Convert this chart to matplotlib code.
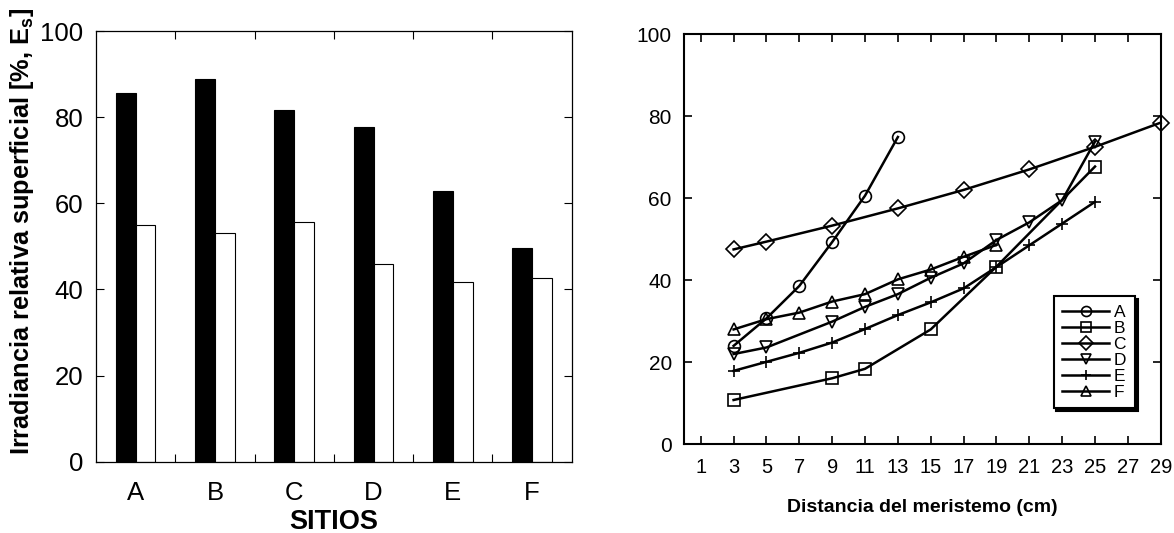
"""
Irradiancia relativa por sitio y perfiles a lo largo del meristemo.
"""

import matplotlib
matplotlib.use("Agg")
import matplotlib.pyplot as plt

plt.rcParams["font.family"] = ["Liberation Sans", "DejaVu Sans"]
plt.rcParams["mathtext.fontset"] = "custom"
plt.rcParams["mathtext.rm"] = "Liberation Sans"
plt.rcParams["mathtext.bf"] = "Liberation Sans:bold"

# barras: irradiancia por sitio
sitios = ["A", "B", "C", "D", "E", "F"]
irr_negro = [85.7, 88.9, 81.7, 77.7, 62.9, 49.6]
irr_blanco = [54.9, 53.0, 55.7, 45.8, 41.8, 42.6]

# perfiles: irradiancia vs distancia del meristemo
dist_a = [3, 5, 7, 9, 11, 13]
irr_a = [24.0, 30.7, 38.6, 49.3, 60.6, 74.9]
dist_b = [3, 9, 11, 15, 19, 25]
irr_b = [10.8, 16.1, 18.4, 28.0, 43.3, 67.7]
dist_c = [3, 5, 9, 13, 17, 21, 25, 29]
irr_c = [47.5, 49.4, 53.3, 57.5, 62.0, 67.0, 72.5, 78.4]
dist_d = [3, 5, 9, 11, 13, 15, 17, 19, 21, 23, 25]
irr_d = [22.0, 23.6, 29.9, 33.5, 36.6, 40.6, 44.1, 49.8, 54.1, 59.5, 73.8]
dist_e = [3, 5, 7, 9, 11, 13, 15, 17, 19, 21, 23, 25]
irr_e = [17.9, 20.1, 22.3, 24.8, 28.1, 31.5, 34.6, 38.0, 43.2, 48.5, 53.8, 59.1]
dist_f = [3, 5, 7, 9, 11, 13, 15, 17, 19]
irr_f = [28.0, 30.5, 32.1, 34.8, 36.6, 40.2, 42.6, 45.7, 48.6]

series = [
    ("A", dist_a, irr_a, "o"),
    ("B", dist_b, irr_b, "s"),
    ("C", dist_c, irr_c, "D"),
    ("D", dist_d, irr_d, "v"),
    ("E", dist_e, irr_e, "+"),
    ("F", dist_f, irr_f, "^"),
]

fig = plt.figure(figsize=(11.74, 5.33), dpi=100)

# --- panel izquierdo: barras ---
ax1 = fig.add_axes([0.0818, 0.1338, 0.4052, 0.808])
pos = list(range(len(sitios)))
w = 0.25
ax1.bar([p - w / 2 for p in pos], irr_negro, width=w, color="black",
        edgecolor="black", linewidth=0.8)
ax1.bar([p + w / 2 for p in pos], irr_blanco, width=w, color="white",
        edgecolor="black", linewidth=0.8)
ax1.set_xlim(-0.5, len(sitios) - 0.5)
ax1.set_ylim(0, 100)
ax1.set_xticks(pos)
ax1.set_xticklabels(sitios, fontsize=18.5)
ax1.set_xticks([p + 0.5 for p in pos[:-1]], minor=True)
ax1.tick_params(axis="x", which="major", length=0, pad=14)
ax1.tick_params(axis="x", which="minor", direction="in", length=6,
                top=True, bottom=True, width=0.8)
ax1.set_yticks(range(0, 101, 20))
ax1.tick_params(axis="y", direction="in", length=6, left=True, right=True,
                labelsize=18.5, pad=9, width=0.8)
for s in ax1.spines.values():
    s.set_linewidth(0.9)
fig.text(0.019, 0.5666,
         r"Irradiancia relativa superficial [%, $\mathbf{E}_\mathbf{s}$]",
         rotation=90, ha="center", va="center", fontsize=18.3,
         fontweight="bold")
fig.text(0.284, 0.02, "SITIOS", ha="center", va="center", fontsize=19.5,
         fontweight="bold")

# --- panel derecho: perfiles ---
ax2 = fig.add_axes([0.5829, 0.1664, 0.4058, 0.7698])
for name, x, y, m in series:
    ax2.plot(x, y, color="black", linewidth=1.8, marker=m, markersize=8.5,
             markerfacecolor="none", markeredgecolor="black",
             markeredgewidth=1.2, label=name, clip_on=False)
ax2.set_xlim(0, 29)
ax2.set_ylim(0, 100)
ax2.set_xticks(range(1, 30, 2))
ax2.set_yticks(range(0, 101, 20))
ax2.tick_params(axis="both", direction="in", length=6, width=1.2,
                top=True, right=True)
ax2.tick_params(axis="x", labelsize=14.5, pad=10)
ax2.tick_params(axis="y", labelsize=15, pad=9)
for s in ax2.spines.values():
    s.set_linewidth(1.5)
ax2.set_xlabel("Distancia del meristemo (cm)", fontsize=14,
               fontweight="bold", labelpad=16)

leg = ax2.legend(loc="upper left", bbox_to_anchor=(0.757, 0.383),
                 fontsize=12.5, handlelength=2.7, handletextpad=0.25,
                 labelspacing=0.05, borderpad=0.5, markerscale=0.85,
                 fancybox=False, edgecolor="black", framealpha=1,
                 shadow={"color": "black", "alpha": 1})
leg.get_frame().set_linewidth(1.5)

fig.savefig("out.png", dpi=100)
